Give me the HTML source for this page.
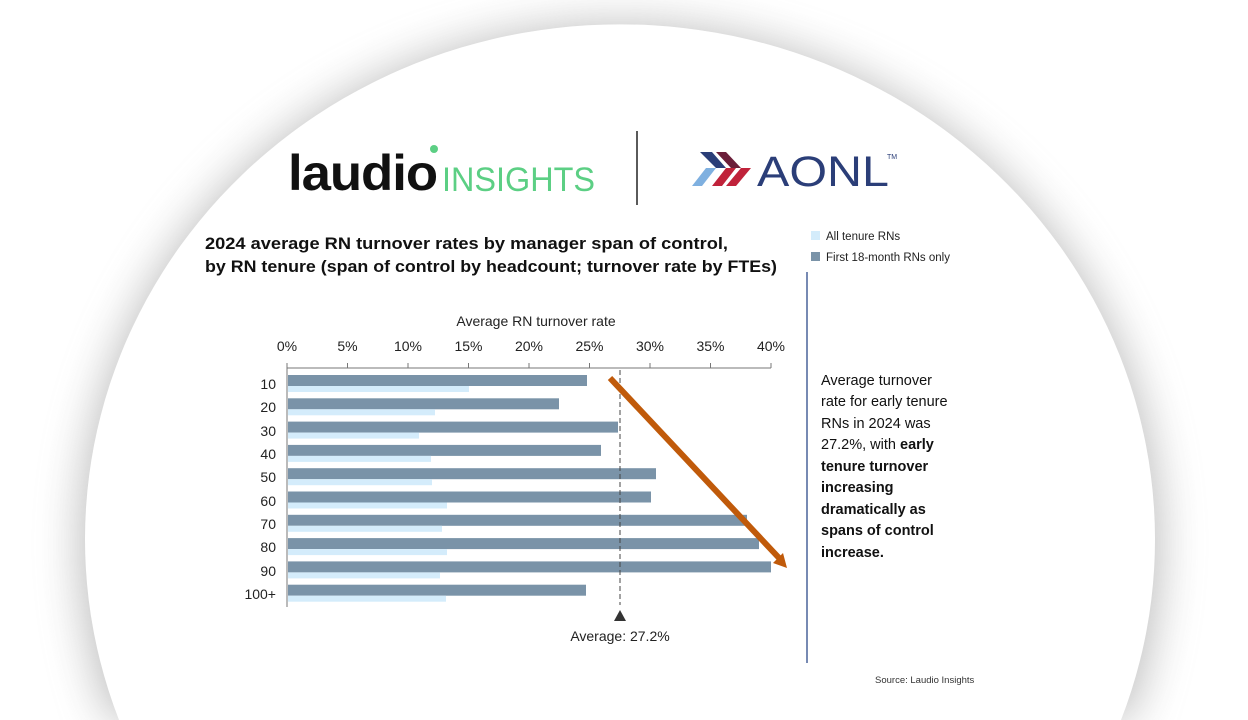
<!DOCTYPE html>
<html><head><meta charset="utf-8"><style>
html,body{margin:0;padding:0;background:#fff;width:1248px;height:720px;overflow:hidden;font-family:"Liberation Sans",sans-serif}
svg{position:absolute;left:0;top:0;display:block}
</style></head><body>
<svg width="1248" height="720" viewBox="0 0 1248 720" font-family="Liberation Sans, sans-serif">
<defs><filter id="b" x="-20%" y="-20%" width="140%" height="140%"><feGaussianBlur stdDeviation="22"/></filter></defs>
<path d="M 112,720 A 540 520 0 1 1 1128,720 Z" fill="#8a8a8a" opacity="0.55" filter="url(#b)"/>
<path d="M 119,720 A 535 515 0 1 1 1121,720 Z" fill="#fff"/>
<text x="288" y="190" font-size="50" font-weight="bold" fill="#111" letter-spacing="-1" textLength="149" lengthAdjust="spacingAndGlyphs">laudio</text>
<circle cx="434" cy="149" r="4" fill="#5ccf84"/>
<text x="442" y="191" font-size="34" fill="#5ccf84" textLength="153" lengthAdjust="spacingAndGlyphs">INSIGHTS</text>
<line x1="637" y1="131" x2="637" y2="205" stroke="#222" stroke-width="1.5"/>
<polygon points="692,186 706,168 716,168 702,186" fill="#7fb0e0"/>
<polygon points="700,152 712,152 726,168 716,168" fill="#2b3e78"/>
<polygon points="712,186 726,168 736,168 722,186" fill="#c0223a"/>
<polygon points="716,152 726,152 741,168 731,168" fill="#6b1f3a"/>
<polygon points="726,186 741,168 751,168 736,186" fill="#c0223a"/>
<text x="757" y="186" font-size="43" fill="#2b3e78" textLength="132" lengthAdjust="spacingAndGlyphs">AONL</text>
<text x="887" y="159" font-size="7" fill="#2b3e78">TM</text>
<text x="205" y="249" font-size="17" font-weight="bold" fill="#111" textLength="523" lengthAdjust="spacingAndGlyphs">2024 average RN turnover rates by manager span of control,</text>
<text x="205" y="272" font-size="17" font-weight="bold" fill="#111" textLength="572" lengthAdjust="spacingAndGlyphs">by RN tenure (span of control by headcount; turnover rate by FTEs)</text>
<rect x="811" y="231" width="9" height="9" fill="#d4ecfb"/>
<text x="826" y="240" font-size="11.5" fill="#222">All tenure RNs</text>
<rect x="811" y="252" width="9" height="9" fill="#7a93a8"/>
<text x="826" y="261" font-size="11.5" fill="#222">First 18-month RNs only</text>
<line x1="807" y1="272" x2="807" y2="663" stroke="#2e4c8a" stroke-width="1.3"/>
<text x="536" y="326" font-size="14" text-anchor="middle" fill="#222">Average RN turnover rate</text>
<g font-size="14" fill="#222" text-anchor="middle">
<text x="287" y="351">0%</text><text x="347.5" y="351">5%</text><text x="408" y="351">10%</text><text x="468.5" y="351">15%</text><text x="529" y="351">20%</text><text x="589.5" y="351">25%</text><text x="650" y="351">30%</text><text x="710.5" y="351">35%</text><text x="771" y="351">40%</text>
</g>
<g stroke="#777" stroke-width="1">
<line x1="287" y1="368" x2="771" y2="368"/>
<line x1="287" y1="363" x2="287" y2="607"/>
<line x1="347.5" y1="363" x2="347.5" y2="368"/><line x1="408" y1="363" x2="408" y2="368"/><line x1="468.5" y1="363" x2="468.5" y2="368"/><line x1="529" y1="363" x2="529" y2="368"/><line x1="589.5" y1="363" x2="589.5" y2="368"/><line x1="650" y1="363" x2="650" y2="368"/><line x1="710.5" y1="363" x2="710.5" y2="368"/><line x1="771" y1="363" x2="771" y2="368"/>
</g>
<g fill="#7a93a8">
<rect x="288" y="375" width="299" height="11"/>
<rect x="288" y="398.3" width="271" height="11"/>
<rect x="288" y="421.6" width="330" height="11"/>
<rect x="288" y="444.9" width="313" height="11"/>
<rect x="288" y="468.2" width="368" height="11"/>
<rect x="288" y="491.5" width="363" height="11"/>
<rect x="288" y="514.8" width="459" height="11"/>
<rect x="288" y="538.1" width="471" height="11"/>
<rect x="288" y="561.4" width="483" height="11"/>
<rect x="288" y="584.7" width="298" height="11"/>
</g>
<g fill="#d4ecfb">
<rect x="288" y="386" width="181" height="6"/>
<rect x="288" y="409.3" width="147" height="6"/>
<rect x="288" y="432.6" width="131" height="6"/>
<rect x="288" y="455.9" width="143" height="6"/>
<rect x="288" y="479.2" width="144" height="6"/>
<rect x="288" y="502.5" width="159" height="6"/>
<rect x="288" y="525.8" width="154" height="6"/>
<rect x="288" y="549.1" width="159" height="6"/>
<rect x="288" y="572.4" width="152" height="6"/>
<rect x="288" y="595.7" width="158" height="6"/>
</g>
<g font-size="14" fill="#222" text-anchor="end">
<text x="276" y="389">10</text><text x="276" y="412">20</text><text x="276" y="436">30</text><text x="276" y="459">40</text><text x="276" y="482">50</text><text x="276" y="506">60</text><text x="276" y="529">70</text><text x="276" y="552">80</text><text x="276" y="576">90</text><text x="276" y="599">100+</text>
</g>
<line x1="620" y1="370" x2="620" y2="605" stroke="#444" stroke-width="1" stroke-dasharray="5,3"/>
<polygon points="620,610 614,621 626,621" fill="#333"/>
<text x="620" y="641" font-size="14" fill="#222" text-anchor="middle">Average: 27.2%</text>
<line x1="610" y1="378" x2="780" y2="559" stroke="#c05a0a" stroke-width="6"/>
<polygon points="787,568 773,563 783,553" fill="#c05a0a"/>
<g font-size="14.5" fill="#111">
<text x="821" y="385">Average turnover</text>
<text x="821" y="406">rate for early tenure</text>
<text x="821" y="428">RNs in 2024 was</text>
<text x="821" y="449">27.2%, with <tspan font-weight="bold">early</tspan></text>
<text x="821" y="471" font-weight="bold">tenure turnover</text>
<text x="821" y="492" font-weight="bold">increasing</text>
<text x="821" y="514" font-weight="bold">dramatically as</text>
<text x="821" y="535" font-weight="bold">spans of control</text>
<text x="821" y="557" font-weight="bold">increase.</text>
</g>
<text x="875" y="683" font-size="9.5" fill="#333">Source: Laudio Insights</text>
</svg>
</body></html>
